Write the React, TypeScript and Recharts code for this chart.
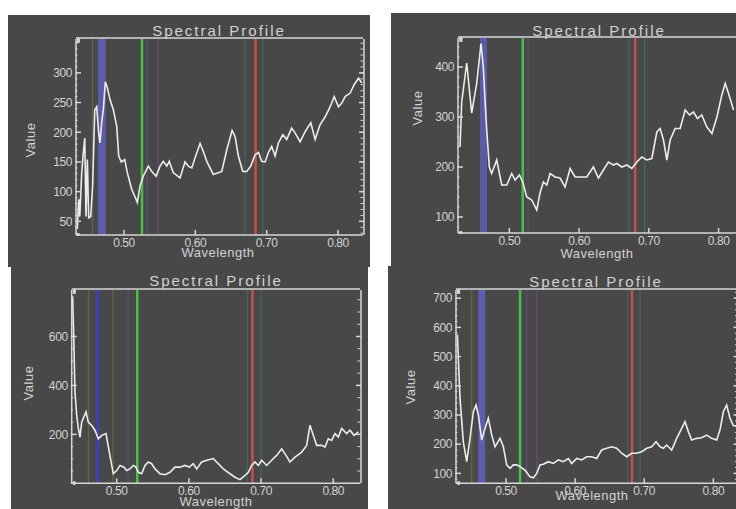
import React from 'react';
import { LineChart, Line, XAxis, YAxis, ReferenceLine } from 'recharts';

// top left panel
const p1Wave = [0.4345, 0.4365, 0.438, 0.4407, 0.443, 0.445, 0.4467, 0.4486, 0.4505, 0.4533, 0.456, 0.459, 0.4617, 0.4645, 0.4663, 0.4687, 0.471, 0.4738, 0.4766, 0.4804, 0.485, 0.4898, 0.4926, 0.4962, 0.501, 0.5046, 0.5108, 0.5187, 0.5224, 0.527, 0.534, 0.539, 0.545, 0.5505, 0.555, 0.56, 0.5634, 0.569, 0.5785, 0.5855, 0.59, 0.595, 0.5996, 0.6066, 0.611, 0.616, 0.6252, 0.637, 0.644, 0.6515, 0.6557, 0.6603, 0.6665, 0.672, 0.6777, 0.6837, 0.6884, 0.693, 0.6978, 0.7024, 0.707, 0.7118, 0.7164, 0.7226, 0.728, 0.735, 0.7398, 0.7468, 0.7539, 0.7618, 0.7679, 0.7749, 0.782, 0.789, 0.7946, 0.8006, 0.8053, 0.81, 0.817, 0.8226, 0.8287, 0.8334];
const p1Value = [37, 87, 58, 132, 166, 190, 58, 154, 56, 58, 109, 238, 243, 199, 182, 216, 238, 285, 275, 255, 238, 210, 160, 150, 154, 132, 104, 82, 109, 126, 143, 134, 126, 143, 151, 143, 151, 132, 123, 150, 143, 140, 157, 181, 168, 151, 129, 134, 170, 203, 193, 160, 134, 134, 143, 162, 166, 151, 150, 166, 176, 160, 182, 196, 188, 207, 199, 184, 201, 216, 188, 213, 226, 243, 260, 243, 249, 260, 266, 280, 291, 283];
const p1YTicks = [50, 100, 150, 200, 250, 300];
const p1Markers = [0.469, 0.5252, 0.6844]; // blue, green, red
const p1Edges = [0.4558, 0.5325, 0.548, 0.6697, 0.6945];

// top right panel
const p2Wave = [0.4293, 0.4317, 0.4389, 0.446, 0.4532, 0.4594, 0.4627, 0.4651, 0.4676, 0.4713, 0.4747, 0.4819, 0.4891, 0.4963, 0.5034, 0.5082, 0.5144, 0.5192, 0.525, 0.5321, 0.5393, 0.544, 0.5488, 0.5537, 0.5584, 0.5656, 0.5727, 0.5799, 0.5871, 0.5943, 0.6014, 0.611, 0.6205, 0.6277, 0.6349, 0.642, 0.6492, 0.654, 0.6613, 0.6684, 0.6756, 0.6828, 0.69, 0.6971, 0.7043, 0.7115, 0.7162, 0.721, 0.7258, 0.7306, 0.7377, 0.7449, 0.7521, 0.7583, 0.764, 0.7697, 0.7759, 0.7832, 0.7904, 0.7976, 0.8047, 0.8095, 0.8143, 0.8214];
const p2Value = [240, 330, 408, 308, 367, 447, 400, 334, 274, 200, 187, 214, 164, 164, 187, 174, 184, 170, 140, 134, 114, 148, 170, 164, 187, 180, 178, 160, 197, 180, 180, 180, 200, 178, 194, 210, 204, 207, 200, 204, 197, 210, 220, 214, 217, 270, 277, 254, 214, 254, 277, 277, 314, 304, 310, 297, 304, 280, 267, 300, 344, 367, 347, 314];
const p2YTicks = [100, 200, 300, 400];
const p2Markers = [0.463, 0.5192, 0.6804];
const p2Edges = [0.527, 0.671, 0.694];

// bottom left panel
const p3Wave = [0.439, 0.4409, 0.4422, 0.4446, 0.4469, 0.4492, 0.4515, 0.4575, 0.4607, 0.4653, 0.4699, 0.4746, 0.4792, 0.4852, 0.4898, 0.4953, 0.5, 0.5046, 0.5101, 0.5138, 0.5184, 0.523, 0.5267, 0.53, 0.5346, 0.5392, 0.5438, 0.5484, 0.5531, 0.56, 0.5669, 0.5738, 0.5807, 0.5877, 0.5946, 0.6006, 0.6061, 0.6108, 0.6177, 0.6246, 0.6338, 0.6408, 0.6477, 0.6569, 0.6638, 0.6708, 0.6777, 0.6823, 0.6869, 0.6916, 0.6962, 0.7008, 0.7077, 0.7146, 0.7216, 0.7285, 0.7345, 0.74, 0.747, 0.7562, 0.7631, 0.7677, 0.7723, 0.777, 0.7839, 0.7885, 0.7931, 0.7977, 0.8024, 0.807, 0.8116, 0.8185, 0.8231, 0.8287, 0.8347];
const p3Value = [764, 552, 374, 278, 224, 189, 250, 292, 250, 237, 217, 182, 196, 203, 127, 39, 52, 73, 66, 52, 59, 73, 66, 45, 39, 73, 87, 80, 59, 39, 35, 45, 66, 66, 73, 66, 80, 59, 87, 94, 101, 80, 59, 39, 25, 15, 32, 45, 73, 87, 73, 94, 73, 94, 114, 141, 114, 87, 107, 127, 155, 237, 196, 155, 155, 148, 182, 175, 203, 189, 224, 203, 217, 196, 210];
const p3YTicks = [200, 400, 600];
const p3Markers = [0.4737, 0.5285, 0.688];
const p3Edges = [0.461, 0.495, 0.516, 0.681, 0.7];

// bottom right panel
const p4Wave = [0.4296, 0.4334, 0.4382, 0.4431, 0.4479, 0.4527, 0.4566, 0.46, 0.4648, 0.4696, 0.4744, 0.4793, 0.4841, 0.4913, 0.4961, 0.501, 0.5058, 0.5106, 0.5154, 0.5203, 0.5275, 0.5347, 0.5396, 0.5444, 0.5492, 0.554, 0.5613, 0.5685, 0.5757, 0.583, 0.5902, 0.595, 0.6023, 0.6095, 0.6167, 0.624, 0.6312, 0.6384, 0.6457, 0.6529, 0.6602, 0.6674, 0.6746, 0.6819, 0.6891, 0.6963, 0.7036, 0.7108, 0.7171, 0.7229, 0.7277, 0.7325, 0.7397, 0.747, 0.7542, 0.759, 0.7639, 0.7687, 0.7759, 0.7831, 0.7904, 0.7976, 0.8048, 0.8097, 0.8145, 0.8193, 0.8241, 0.829, 0.8328];
const p4Value = [575, 357, 208, 140, 220, 311, 334, 300, 214, 254, 289, 231, 191, 220, 191, 129, 117, 129, 129, 123, 111, 88, 85, 100, 129, 131, 140, 134, 146, 140, 151, 134, 151, 146, 157, 157, 151, 180, 186, 191, 186, 169, 157, 169, 169, 174, 186, 191, 208, 191, 186, 197, 180, 220, 254, 277, 243, 214, 220, 222, 231, 220, 214, 249, 311, 334, 289, 263, 263];
const p4YTicks = [100, 200, 300, 400, 500, 600, 700];
const p4Markers = [0.4648, 0.5203, 0.6823];
const p4Edges = [0.4503, 0.53, 0.5444, 0.676, 0.694];

const xLabels = [0.5, 0.6, 0.7, 0.8];

const BG = '#484848';
const FRAME = '#d6d6d6';
const TEXT = '#d2d2d2';
const FONT = '"Liberation Sans", Arial, sans-serif';
const MARK_COLORS = ['#5c5ca8', '#48c048', '#c84e52'];
const EDGE_COLORS = ['#5f6442', '#65496c', '#3f6458'];

function steps(from: number, to: number, step: number) {
    const out: number[] = [];
    for (let v = from; v <= to + 1e-9; v += step) out.push(Math.round(v * 1000) / 1000);
    return out;
}

interface PanelProps {
    box: { left: number; top: number; width: number; height: number };
    chartWidth: number;
    plot: { top: number; right: number; bottom: number; left: number }; // frame position inside the box
    xDomain: [number, number];
    yDomain: [number, number];
    yTicks: number[];
    yMinor: number;
    wave: number[];
    value: number[];
    markers: number[];
    edges: number[];
    blue: { color: string; width: number };
    title: [number, number];
    yLabel: [number, number];
    xLabel: [number, number];
}

function Panel(p: PanelProps) {
    const data = p.wave.map((w, i) => ({ w, v: p.value[i] }));
    const tickText = { fill: TEXT, fontSize: 12, fontFamily: FONT, letterSpacing: -0.4 };
    const line = { stroke: FRAME, strokeWidth: 1.5 };
    const minorLine = { stroke: FRAME, strokeWidth: 1 };
    const xMinor = steps(0.44, 0.83, 0.02);
    const yMinor = steps(Math.ceil(p.yDomain[0] / p.yMinor) * p.yMinor, p.yDomain[1], p.yMinor);
    const blank = () => '';
    const nearest = (e: number) => {
        let best = 0;
        p.markers.forEach((m, i) => {
            if (Math.abs(m - e) < Math.abs(p.markers[best] - e)) best = i;
        });
        return best;
    };
    // each side holds two 1px axes (major + minor)
    const margin = {
        top: p.plot.top - 2,
        left: p.plot.left - 2,
        right: p.chartWidth - p.plot.right - 2,
        bottom: p.box.height - p.plot.bottom - 2,
    };
    const label: React.CSSProperties = {
        position: 'absolute',
        color: TEXT,
        fontFamily: FONT,
        whiteSpace: 'nowrap',
        lineHeight: 1,
    };

    return (
        <div style={{ position: 'absolute', ...p.box, background: BG, overflow: 'hidden' }}>
            <LineChart width={p.chartWidth} height={p.box.height} data={data} margin={margin}>
                <XAxis xAxisId={0} type="number" dataKey="w" domain={p.xDomain} allowDataOverflow
                    ticks={xLabels} interval={0} tickFormatter={(v: number) => v.toFixed(2)}
                    height={1} tickSize={-5} tickMargin={8} axisLine={line} tickLine={line} tick={tickText} />
                <XAxis xAxisId="mb" type="number" domain={p.xDomain} allowDataOverflow ticks={xMinor}
                    interval={0} tickFormatter={blank} height={1} tickSize={-2.5} axisLine={false}
                    tickLine={minorLine} tick={tickText} />
                <XAxis xAxisId="t" orientation="top" type="number" domain={p.xDomain} allowDataOverflow
                    ticks={xLabels} interval={0} tickFormatter={blank} height={1} tickSize={-5}
                    axisLine={line} tickLine={line} tick={tickText} />
                <XAxis xAxisId="mt" orientation="top" type="number" domain={p.xDomain} allowDataOverflow
                    ticks={xMinor} interval={0} tickFormatter={blank} height={1} tickSize={-2.5}
                    axisLine={false} tickLine={minorLine} tick={tickText} />
                <YAxis yAxisId={0} type="number" domain={p.yDomain} allowDataOverflow ticks={p.yTicks}
                    interval={0} width={1} tickSize={-5} tickMargin={9} axisLine={line} tickLine={line}
                    tick={tickText} />
                <YAxis yAxisId="ml" type="number" domain={p.yDomain} allowDataOverflow ticks={yMinor}
                    interval={0} width={1} tickSize={-2.5} tickFormatter={blank} axisLine={false}
                    tickLine={minorLine} tick={tickText} />
                <YAxis yAxisId="r" orientation="right" type="number" domain={p.yDomain} allowDataOverflow
                    ticks={p.yTicks} interval={0} width={1} tickSize={-5} tickFormatter={blank}
                    axisLine={line} tickLine={line} tick={tickText} />
                <YAxis yAxisId="mr" orientation="right" type="number" domain={p.yDomain} allowDataOverflow
                    ticks={yMinor} interval={0} width={1} tickSize={-2.5} tickFormatter={blank}
                    axisLine={false} tickLine={minorLine} tick={tickText} />
                {p.edges.map((e) => (
                    <ReferenceLine key={`e${e}`} x={e} xAxisId={0} yAxisId={0}
                        stroke={EDGE_COLORS[nearest(e)]} strokeWidth={1.5} />
                ))}
                {p.markers.map((m, i) => (
                    <ReferenceLine key={`m${m}`} x={m} xAxisId={0} yAxisId={0}
                        stroke={i === 0 ? p.blue.color : MARK_COLORS[i]}
                        strokeWidth={i === 0 ? p.blue.width : 2.5} />
                ))}
                <Line xAxisId={0} yAxisId={0} dataKey="v" type="linear" stroke="#ececec"
                    strokeWidth={1.6} dot={false} isAnimationActive={false} />
            </LineChart>
            <div style={{ ...label, left: p.title[0], top: p.title[1], fontSize: 15, letterSpacing: 2,
                transform: 'translate(-50%, -50%)' }}>Spectral Profile</div>
            <div style={{ ...label, left: p.yLabel[0], top: p.yLabel[1], fontSize: 13, letterSpacing: 0.5,
                transform: 'translate(-50%, -50%) rotate(-90deg)' }}>Value</div>
            <div style={{ ...label, left: p.xLabel[0], top: p.xLabel[1], fontSize: 13, letterSpacing: 0.5,
                transform: 'translate(-50%, -50%)' }}>Wavelength</div>
        </div>
    );
}

export default function App() {
    return (
        <div style={{ position: 'fixed', left: 0, top: 0, width: 736, height: 509, background: '#fff', overflow: 'hidden' }}>
            <Panel box={{ left: 8, top: 15, width: 362, height: 252 }} chartWidth={362}
                plot={{ top: 24, right: 355, bottom: 220, left: 68 }} xDomain={[0.4327, 0.835]}
                yDomain={[27, 357]} yTicks={p1YTicks} yMinor={10} wave={p1Wave} value={p1Value}
                markers={p1Markers} edges={p1Edges} blue={{ color: '#5c5ca8', width: 8 }}
                title={[211, 15]} yLabel={[22, 125]} xLabel={[210, 237]} />
            <Panel box={{ left: 391, top: 13, width: 345, height: 253 }} chartWidth={360}
                plot={{ top: 25, right: 352, bottom: 220, left: 67 }} xDomain={[0.4264, 0.835]}
                yDomain={[68, 458]} yTicks={p2YTicks} yMinor={20} wave={p2Wave} value={p2Value}
                markers={p2Markers} edges={p2Edges} blue={{ color: '#5a5aa8', width: 7 }}
                title={[208, 17]} yLabel={[26, 95]} xLabel={[206, 240]} />
            <Panel box={{ left: 11, top: 267, width: 357, height: 242 }} chartWidth={357}
                plot={{ top: 23, right: 349, bottom: 216.3, left: 60.7 }} xDomain={[0.4377, 0.837]}
                yDomain={[0, 790]} yTicks={p3YTicks} yMinor={50} wave={p3Wave} value={p3Value}
                markers={p3Markers} edges={p3Edges} blue={{ color: '#3c3cf0', width: 2 }}
                title={[205, 13]} yLabel={[17, 116]} xLabel={[205, 234]} />
            <Panel box={{ left: 388, top: 266, width: 348, height: 243 }} chartWidth={358}
                plot={{ top: 24, right: 349.5, bottom: 217.3, left: 68 }} xDomain={[0.4276, 0.835]}
                yDomain={[66, 728]} yTicks={p4YTicks} yMinor={20} wave={p4Wave} value={p4Value}
                markers={p4Markers} edges={p4Edges} blue={{ color: '#5c5cb0', width: 7 }}
                title={[208, 15]} yLabel={[22, 121]} xLabel={[204, 229]} />
        </div>
    );
}
